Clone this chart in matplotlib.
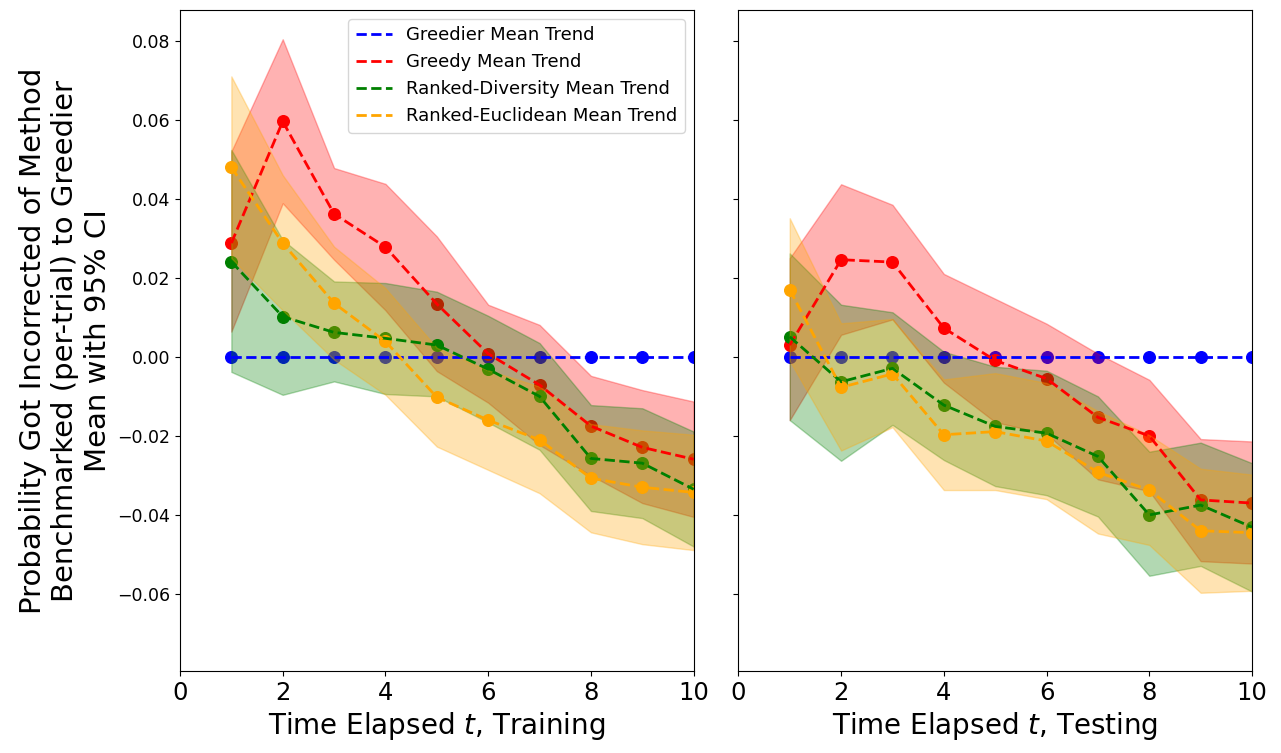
import numpy as np
import matplotlib
matplotlib.use("Agg")
import matplotlib.pyplot as plt

steps = np.arange(1, 11)

# Training panel: mean and 95% CI bounds, relative to Greedier
greedier_train = [0.0] * 10
greedy_train = [0.0288, 0.0596, 0.0362, 0.0278, 0.0134, 0.0008, -0.0071, -0.0175, -0.0229, -0.0259]
greedy_train_lo = [0.0064, 0.0389, 0.0246, 0.0118, -0.0036, -0.0116, -0.0223, -0.0300, -0.0370, -0.0405]
greedy_train_hi = [0.0520, 0.0804, 0.0478, 0.0438, 0.0305, 0.0132, 0.0081, -0.0048, -0.0084, -0.0113]
div_train = [0.0241, 0.0102, 0.0062, 0.0047, 0.0030, -0.0031, -0.0100, -0.0257, -0.0269, -0.0335]
div_train_lo = [-0.0038, -0.0096, -0.0062, -0.0094, -0.0100, -0.0166, -0.0235, -0.0390, -0.0408, -0.0480]
div_train_hi = [0.0524, 0.0296, 0.0191, 0.0187, 0.0165, 0.0104, 0.0035, -0.0122, -0.0130, -0.0189]
euc_train = [0.0480, 0.0288, 0.0136, 0.0039, -0.0102, -0.0160, -0.0210, -0.0307, -0.0330, -0.0343]
euc_train_lo = [0.0250, 0.0118, -0.0007, -0.0096, -0.0227, -0.0286, -0.0345, -0.0444, -0.0474, -0.0489]
euc_train_hi = [0.0710, 0.0460, 0.0279, 0.0174, 0.0023, -0.0034, -0.0075, -0.0170, -0.0186, -0.0197]

# Testing panel
greedier_test = [0.0] * 10
greedy_test = [0.0030, 0.0246, 0.0240, 0.0073, -0.0009, -0.0055, -0.0153, -0.0200, -0.0362, -0.0370]
greedy_test_lo = [-0.0160, 0.0056, 0.0095, -0.0065, -0.0165, -0.0195, -0.0310, -0.0340, -0.0517, -0.0523]
greedy_test_hi = [0.0250, 0.0437, 0.0385, 0.0210, 0.0147, 0.0084, 0.0008, -0.0058, -0.0208, -0.0214]
div_test = [0.0051, -0.0063, -0.0029, -0.0122, -0.0176, -0.0193, -0.0252, -0.0400, -0.0375, -0.0431]
div_test_lo = [-0.0160, -0.0263, -0.0172, -0.0261, -0.0327, -0.0350, -0.0404, -0.0554, -0.0529, -0.0594]
div_test_hi = [0.0262, 0.0132, 0.0113, 0.0013, -0.0025, -0.0035, -0.0100, -0.0240, -0.0217, -0.0269]
euc_test = [0.0170, -0.0077, -0.0043, -0.0197, -0.0189, -0.0213, -0.0292, -0.0337, -0.0440, -0.0445]
euc_test_lo = [-0.0010, -0.0237, -0.0178, -0.0337, -0.0337, -0.0360, -0.0447, -0.0476, -0.0597, -0.0592]
euc_test_hi = [0.0351, 0.0085, 0.0096, -0.0057, -0.0041, -0.0066, -0.0137, -0.0198, -0.0283, -0.0298]

methods = ["Greedier", "Greedy", "Ranked-Diversity", "Ranked-Euclidean"]
colors = ["blue", "red", "green", "orange"]

panels = [
    ("Training", [
        (greedier_train, None, None),
        (greedy_train, greedy_train_lo, greedy_train_hi),
        (div_train, div_train_lo, div_train_hi),
        (euc_train, euc_train_lo, euc_train_hi),
    ]),
    ("Testing", [
        (greedier_test, None, None),
        (greedy_test, greedy_test_lo, greedy_test_hi),
        (div_test, div_test_lo, div_test_hi),
        (euc_test, euc_test_lo, euc_test_hi),
    ]),
]

fig, axes = plt.subplots(1, 2, figsize=(12.81, 7.53), dpi=100, sharey=True)
fig.subplots_adjust(left=0.1405, right=0.9774, bottom=0.1089, top=0.9867, wspace=0.087)

for ax, (phase, series) in zip(axes, panels):
    for name, color, (mean, lo, hi) in zip(methods, colors, series):
        ax.plot(steps, mean, "--", color=color, linewidth=2, label=f"{name} Mean Trend")
        ax.scatter(steps, mean, color=color, s=70)
        if lo is not None:
            ax.fill_between(steps, lo, hi, color=color, alpha=0.3)
    ax.set_xlim(0, 10)
    ax.set_xticks([0, 2, 4, 6, 8, 10])
    ax.tick_params(axis="x", labelsize=17.5)
    ax.tick_params(axis="y", labelsize=12.5)
    ax.set_xlabel(f"Time Elapsed $t$, {phase}", fontsize=20)

axes[0].set_ylim(-0.0795, 0.0878)
axes[0].set_ylabel("Probability Got Incorrected of Method\nBenchmarked (per-trial) to Greedier\nMean with 95% CI",
                   fontsize=21)
axes[0].legend(loc="upper right", fontsize=13)

plt.savefig("out.png", dpi=100)
